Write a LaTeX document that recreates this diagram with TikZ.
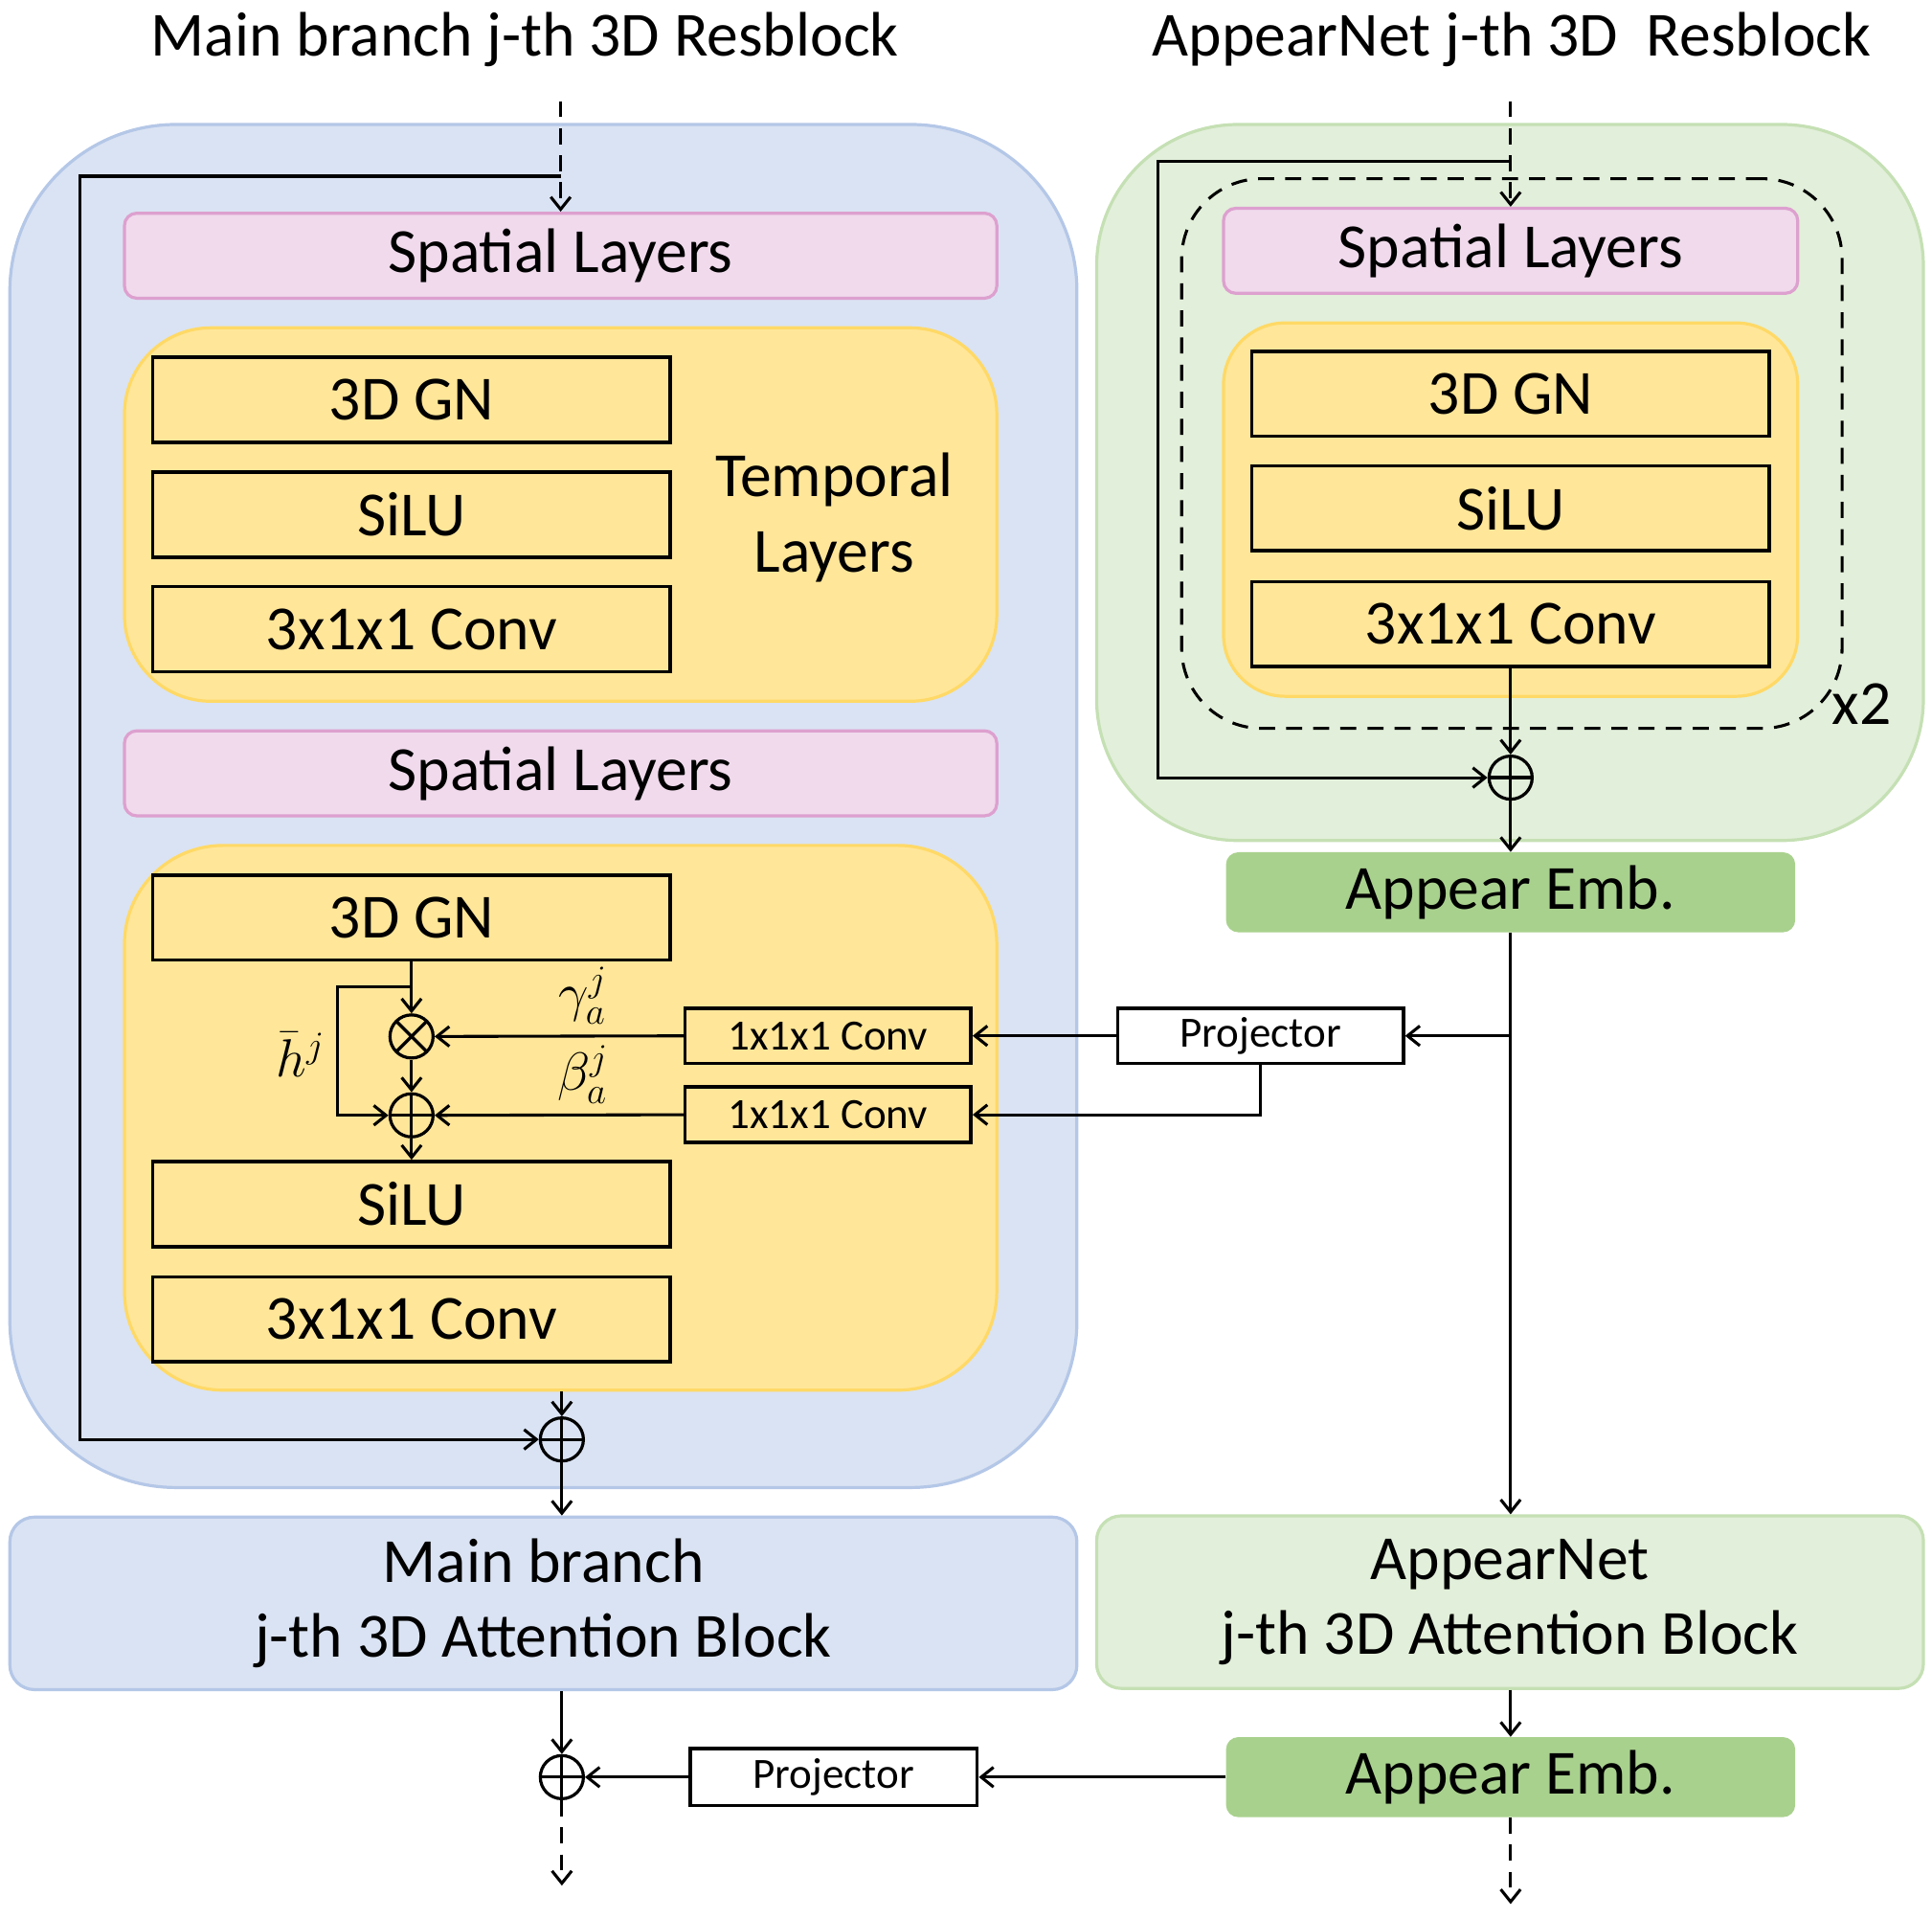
\documentclass[tikz,border=0pt]{standalone}
\usepackage{fontspec}
\setmainfont{Carlito}
\usetikzlibrary{arrows.meta,shapes.geometric}
\definecolor{bluefill}{HTML}{DAE3F3}
\definecolor{blueline}{HTML}{B4C7E7}
\definecolor{greenfill}{HTML}{E2EFDA}
\definecolor{greenline}{HTML}{C5E0B4}
\definecolor{yelfill}{HTML}{FFE699}
\definecolor{yelline}{HTML}{FFD966}
\definecolor{pinkfill}{HTML}{F0DAEC}
\definecolor{pinkline}{HTML}{DDA0CF}
\definecolor{embfill}{HTML}{A9D18E}
\begin{document}
\begin{tikzpicture}[x=1pt,y=-1pt,
  bigfont/.style={font=\fontsize{51}{61}\selectfont},
  smallfont/.style={font=\fontsize{35}{40}\selectfont},
  bluebox/.style={rectangle, fill=bluefill, draw=blueline, line width=2.5pt, inner sep=0pt},
  greenbox/.style={rectangle, fill=greenfill, draw=greenline, line width=2.5pt, inner sep=0pt},
  pinkbox/.style={rectangle, rounded corners=10pt, fill=pinkfill, draw=pinkline, line width=2.5pt, inner sep=0pt, minimum height=69pt, bigfont},
  yelbox/.style={rectangle, fill=yelfill, draw=yelline, line width=2.5pt, inner sep=0pt},
  layer/.style={rectangle, draw=black, line width=2.8pt, inner sep=0pt, minimum width=420pt, minimum height=69pt, bigfont},
  small/.style={rectangle, draw=black, fill=white, line width=2.8pt, inner sep=0pt, minimum width=232pt, minimum height=45pt, smallfont},
  emb/.style={rectangle, rounded corners=10pt, fill=embfill, draw=none, inner sep=0pt, minimum width=462pt, minimum height=65pt, bigfont},
  opl/.style={circle, draw=black, line width=2.5pt, minimum size=35pt, inner sep=0pt,
    path picture={\draw[line width=2.5pt] (path picture bounding box.north) -- (path picture bounding box.south)
      (path picture bounding box.west) -- (path picture bounding box.east);}},
  otm/.style={circle, draw=black, line width=2.5pt, minimum size=35pt, inner sep=0pt,
    path picture={\draw[line width=2.5pt] (path picture bounding box.north west) -- (path picture bounding box.south east)
      (path picture bounding box.south west) -- (path picture bounding box.north east);}},
  mlbl/.style={scale=2.1, inner sep=0pt, font=\huge},
  arr/.style={line width=2.4pt, -{Straight Barb[length=10pt,width=16pt]}},
  dsh/.style={dash pattern=on 13pt off 9pt}
]
\useasboundingbox (0,0) rectangle (1568,1557);

% titles
\node[bigfont] (titleL) at (426,32) {Main branch j-th 3D Resblock};
\node[bigfont] (titleR) at (1227,32) {AppearNet j-th 3D\ \ Resblock};

% big containers
\node[bluebox, rounded corners=135pt, minimum width=866pt, minimum height=1106pt] (mainRes) at (441,654) {};
\node[greenbox, rounded corners=115pt, minimum width=671pt, minimum height=581pt] (appRes) at (1225.5,391.5) {};

% ---------- left resblock ----------
\node[pinkbox, minimum width=708pt] (spL1) at (455,207.5) {Spatial Layers};
\node[yelbox, rounded corners=70pt, minimum width=708pt, minimum height=303pt] (tempL1) at (455,417.5) {};
\node[layer] (gnL1) at (334,324.5) {3D GN};
\node[layer] (siluL1) at (334,417.5) {SiLU};
\node[layer] (convL1) at (334,510.5) {3x1x1 Conv};
\node[bigfont, align=center] (tempTxt) at (677,420) {Temporal\\Layers};

\node[pinkbox, minimum width=708pt] (spL2) at (455,627.5) {Spatial Layers};
\node[yelbox, rounded corners=80pt, minimum width=708pt, minimum height=442pt] (tempL2) at (455,907) {};
\node[layer] (gnL2) at (334,744.5) {3D GN};
\node[layer] (siluL2) at (334,977) {SiLU};
\node[layer] (convL2) at (334,1070.5) {3x1x1 Conv};
\node[otm] (mul) at (334,841) {};
\node[opl] (addL) at (334,905) {};
\node[mlbl] (hlbl) at (244,856) {$\bar{h}^{j}$};
\node[mlbl] (glbl) at (473,808) {$\gamma_a^{j}$};
\node[mlbl] (blbl) at (473,872) {$\beta_a^{j}$};
\node[small, fill=none] (convG) at (672,840.5) {1x1x1 Conv};
\node[small, fill=none] (convB) at (672,904.5) {1x1x1 Conv};
\node[opl] (addRes) at (456,1168) {};

% ---------- right resblock ----------
\node[rectangle, draw=black, line width=2.4pt, dsh, rounded corners=65pt, minimum width=536pt, minimum height=446pt] (dashR) at (1227,368) {};
\node[pinkbox, minimum width=466pt] (spR) at (1226,203.5) {Spatial Layers};
\node[yelbox, rounded corners=50pt, minimum width=466pt, minimum height=303pt] (tempR) at (1226,413.5) {};
\node[layer] (gnR) at (1226,319.5) {3D GN};
\node[layer] (siluR) at (1226,412.5) {SiLU};
\node[layer] (convR) at (1226,506.5) {3x1x1 Conv};
\node[bigfont] (x2lbl) at (1511,571) {x2};
\node[opl] (addR) at (1226,631) {};
\node[emb] (embR1) at (1226,724) {Appear Emb.};

% projector (middle)
\node[small] (projA) at (1023,840.5) {Projector};

% ---------- attention blocks ----------
\node[bluebox, rounded corners=20pt, minimum width=866pt, minimum height=140pt, bigfont, align=center] (attnL) at (441,1301) {Main branch\\j-th 3D Attention Block};
\node[greenbox, rounded corners=20pt, minimum width=671pt, minimum height=140pt, bigfont, align=center] (attnR) at (1225.5,1300) {AppearNet\\j-th 3D Attention Block};

\node[opl] (addOut) at (456,1442) {};
\node[small, minimum width=233pt, minimum height=46pt] (projB) at (676.5,1442) {Projector};
\node[emb] (embR2) at (1226,1442) {Appear Emb.};

% ---------- connectors ----------
\coordinate (inL) at (455,82);
\coordinate (skL) at (455,143);
\coordinate (skLc) at (65,143);
\draw[arr, dsh] (inL) -- (spL1.north);
\draw[arr] (skL) -- (skLc) |- (addRes.west);
\draw[arr] (addRes |- tempL2.south) -- (addRes.north);
\draw[arr] (addRes.south) -- (addRes |- attnL.north);

\coordinate (hb) at (334,801);
\coordinate (hbc) at (274,801);
\draw[arr] (gnL2.south) -- (mul.north);
\draw[arr] (hb) -- (hbc) |- (addL.west);
\draw[arr] (mul.south) -- (addL.north);
\draw[arr] (addL.south) -- (siluL2.north);
\draw[arr] (convG.west) -- (mul.east);
\draw[arr] (convB.west) -- (addL.east);
\draw[arr] (projA.west) -- (convG.east);
\draw[arr] (projA.south) |- (convB.east);

\coordinate (inR) at (1226,82);
\coordinate (skR) at (1226,131);
\coordinate (skRc) at (940,131);
\draw[arr, dsh] (inR) -- (spR.north);
\draw[arr] (skR) -- (skRc) |- (addR.west);
\draw[arr] (convR.south) -- (addR.north);
\draw[arr] (addR.south) -- (embR1.north);

\coordinate (brA) at (embR1.south |- projA.east);
\draw[arr] (embR1.south) -- (embR1.south |- attnR.north);
\draw[arr] (brA) -- (projA.east);

\draw[arr] (addOut |- attnL.south) -- (addOut.north);
\draw[arr] (embR2.west) -- (projB.east);
\draw[arr] (projB.west) -- (addOut.east);
\draw[arr] (embR2 |- attnR.south) -- (embR2.north);

\coordinate (outL) at (456,1530);
\coordinate (outR) at (1226,1545);
\draw[arr, dsh] (addOut.south) -- (outL);
\draw[arr, dsh] (embR2.south) -- (outR);
\end{tikzpicture}
\end{document}
